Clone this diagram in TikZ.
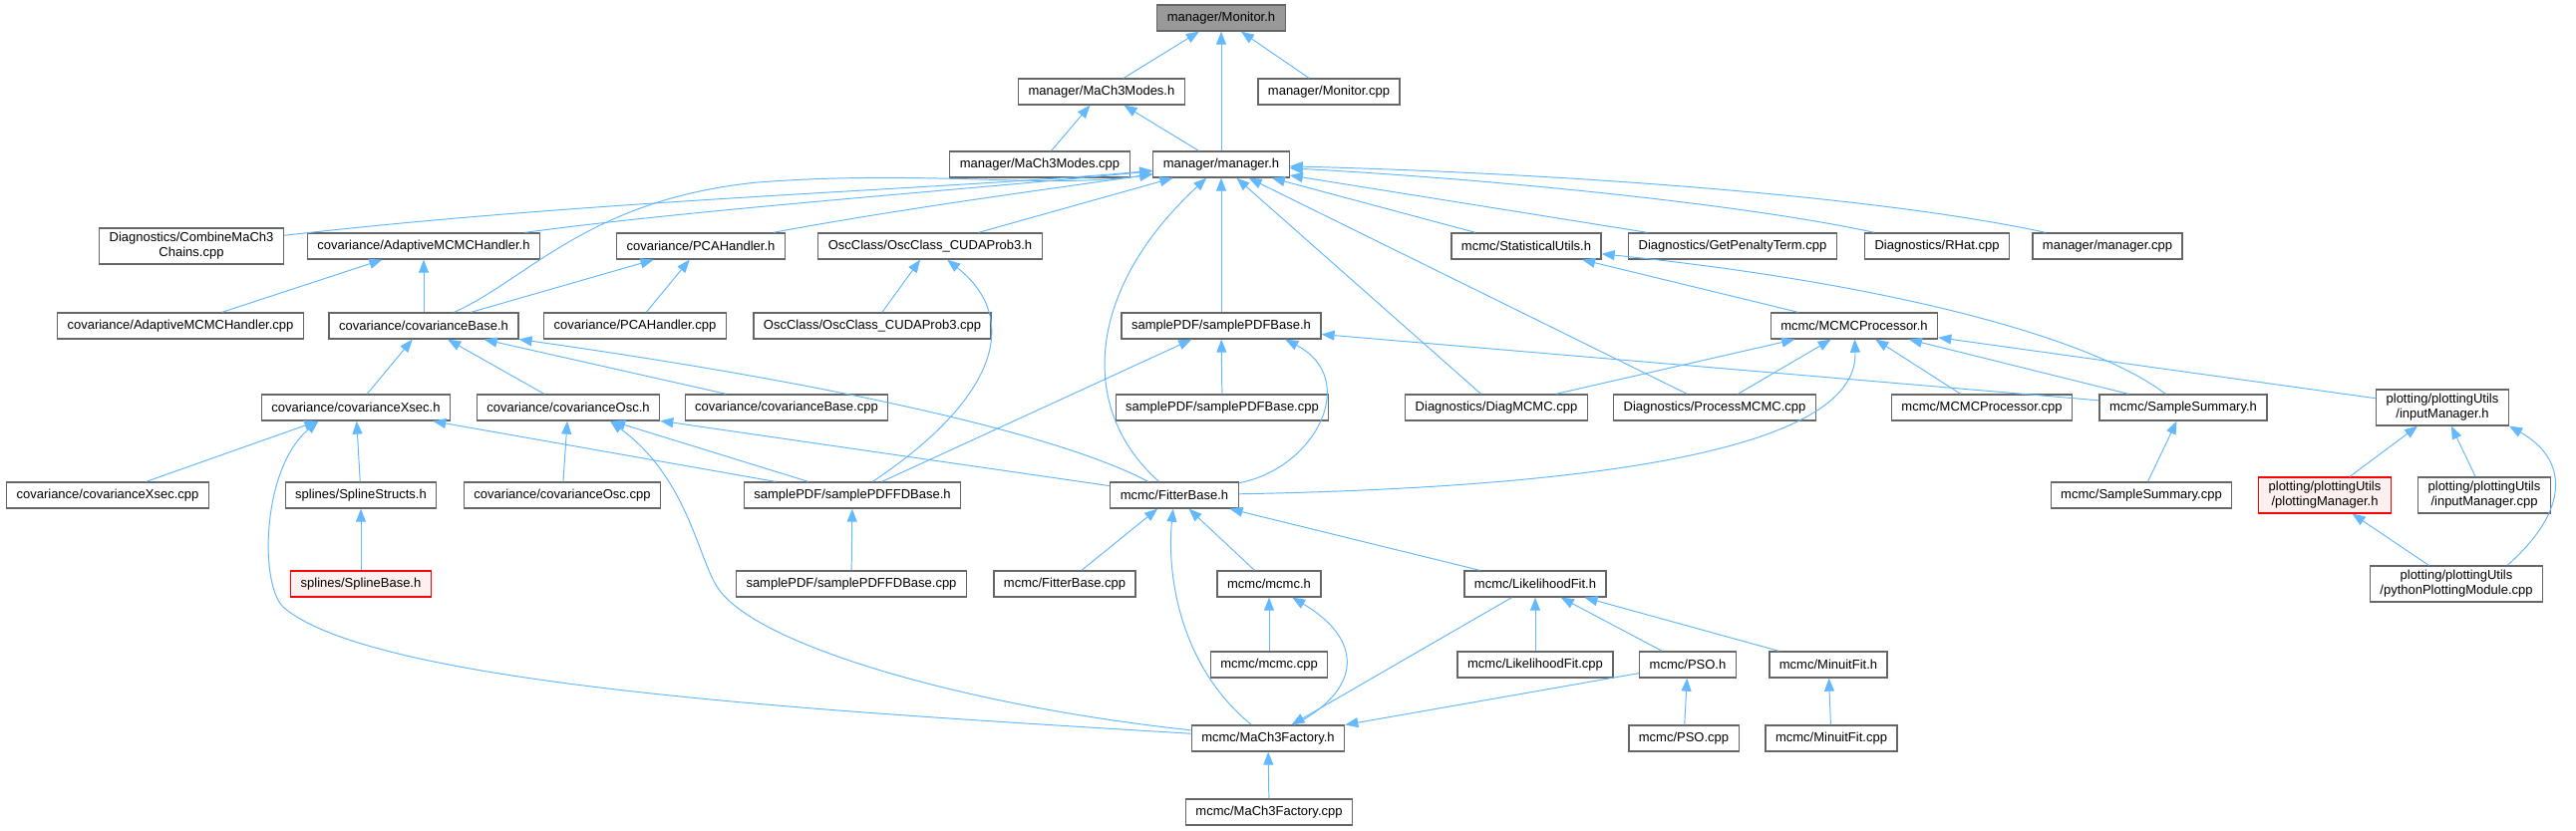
\documentclass[tikz,border=0pt]{standalone}
\usepackage{fontspec}
\setmainfont{Liberation Sans}
\usetikzlibrary{arrows.meta}
\definecolor{edgeblue}{HTML}{63B8FF}
\definecolor{boxgray}{HTML}{666666}
\definecolor{rootfill}{HTML}{999999}
\definecolor{truncfill}{HTML}{FFF0F0}
\begin{document}
\begin{tikzpicture}[x=0.02cm,y=-0.02cm,
  fnode/.style={draw=boxgray,fill=white,line width=0.75pt,align=center,minimum height=0.52cm,inner xsep=0.2cm,inner ysep=2.5pt,font=\fontsize{7.4}{8.5}\selectfont},
  rootnode/.style={fnode,fill=rootfill},
  rednode/.style={fnode,draw=red,fill=truncfill},
  incl/.style={draw=edgeblue,line width=0.55pt,-{Triangle[length=0.26cm,width=0.2cm]}}]
\fill[white] (0,0) rectangle (2584,833);
\useasboundingbox (0,0) rectangle (2584,833);
% top
\node[rootnode] (mon) at (1225,18) {manager/Monitor.h};
\node[fnode] (modes) at (1105,92) {manager/MaCh3Modes.h};
\node[fnode] (moncpp) at (1333,92) {manager/Monitor.cpp};
\node[fnode] (modescpp) at (1043,165) {manager/MaCh3Modes.cpp};
\node[fnode] (mgr) at (1225,165) {manager/manager.h};
% row 3
\node[fnode] (combine) at (192,247) {Diagnostics/CombineMaCh3\\Chains.cpp};
\node[fnode] (adapt) at (425,247) {covariance/AdaptiveMCMCHandler.h};
\node[fnode] (pca) at (703,247) {covariance/PCAHandler.h};
\node[fnode] (osc) at (933,247) {OscClass/OscClass\_CUDAProb3.h};
\node[fnode] (stat) at (1531,247) {mcmc/StatisticalUtils.h};
\node[fnode] (penalty) at (1738,247) {Diagnostics/GetPenaltyTerm.cpp};
\node[fnode] (rhat) at (1943,247) {Diagnostics/RHat.cpp};
\node[fnode] (mgrcpp) at (2114,247) {manager/manager.cpp};
% row 4
\node[fnode] (adaptcpp) at (181,327) {covariance/AdaptiveMCMCHandler.cpp};
\node[fnode] (covbase) at (425,327) {covariance/covarianceBase.h};
\node[fnode] (pcacpp) at (637,327) {covariance/PCAHandler.cpp};
\node[fnode] (osccpp) at (875,327) {OscClass/OscClass\_CUDAProb3.cpp};
\node[fnode] (pdfbase) at (1225,327) {samplePDF/samplePDFBase.h};
\node[fnode] (mcmcproc) at (1860,327) {mcmc/MCMCProcessor.h};
% row 5
\node[fnode] (xsec) at (357,409) {covariance/covarianceXsec.h};
\node[fnode] (covosc) at (570,409) {covariance/covarianceOsc.h};
\node[fnode] (covbasecpp) at (789,409) {covariance/covarianceBase.cpp};
\node[fnode] (pdfbasecpp) at (1226,409) {samplePDF/samplePDFBase.cpp};
\node[fnode] (diag) at (1501,409) {Diagnostics/DiagMCMC.cpp};
\node[fnode] (process) at (1720,409) {Diagnostics/ProcessMCMC.cpp};
\node[fnode] (mcmcproccpp) at (1988,409) {mcmc/MCMCProcessor.cpp};
\node[fnode] (summary) at (2190,409) {mcmc/SampleSummary.h};
\node[fnode] (inputmgr) at (2450,409) {plotting/plottingUtils\\/inputManager.h};
% row 6
\node[fnode] (xseccpp) at (108,497) {covariance/covarianceXsec.cpp};
\node[fnode] (splstruct) at (362,497) {splines/SplineStructs.h};
\node[fnode] (covosccpp) at (564,497) {covariance/covarianceOsc.cpp};
\node[fnode] (fdbase) at (855,497) {samplePDF/samplePDFFDBase.h};
\node[fnode] (fitter) at (1178,497) {mcmc/FitterBase.h};
\node[fnode] (summarycpp) at (2148,497) {mcmc/SampleSummary.cpp};
\node[rednode] (plotmgr) at (2332,497) {plotting/plottingUtils\\/plottingManager.h};
\node[fnode] (inputcpp) at (2492,497) {plotting/plottingUtils\\/inputManager.cpp};
% row 7
\node[rednode] (splbase) at (362,586) {splines/SplineBase.h};
\node[fnode] (fdbasecpp) at (854,586) {samplePDF/samplePDFFDBase.cpp};
\node[fnode] (fittercpp) at (1068,586) {mcmc/FitterBase.cpp};
\node[fnode] (mcmch) at (1273,586) {mcmc/mcmc.h};
\node[fnode] (likefit) at (1540,586) {mcmc/LikelihoodFit.h};
\node[fnode] (pyplot) at (2464,586) {plotting/plottingUtils\\/pythonPlottingModule.cpp};
% row 8
\node[fnode] (mcmccpp) at (1273,667) {mcmc/mcmc.cpp};
\node[fnode] (likefitcpp) at (1540,667) {mcmc/LikelihoodFit.cpp};
\node[fnode] (psoh) at (1693,667) {mcmc/PSO.h};
\node[fnode] (minuith) at (1834,667) {mcmc/MinuitFit.h};
% row 9 and 10
\node[fnode] (factory) at (1272,741) {mcmc/MaCh3Factory.h};
\node[fnode] (psocpp) at (1689,741) {mcmc/PSO.cpp};
\node[fnode] (minuitcpp) at (1837,741) {mcmc/MinuitFit.cpp};
\node[fnode] (factorycpp) at (1273,815) {mcmc/MaCh3Factory.cpp};
% includes of Monitor.h and MaCh3Modes.h
\draw[incl] (modes) -- (mon);
\draw[incl] (mgr) -- (mon);
\draw[incl] (moncpp) -- (mon);
\draw[incl] (modescpp) -- (modes);
\draw[incl] (mgr) -- (modes);
% includes of manager.h
\draw[incl] (combine) .. controls (600,200) and (950,190) .. (mgr);
\draw[incl] (adapt) .. controls (700,210) and (950,192) .. (mgr);
\draw[incl] (covbase) .. controls (530,280) and (590,200) .. (760,183) .. controls (930,170) and (1050,190) .. (mgr);
\draw[incl] (pca) .. controls (900,210) and (1050,190) .. (mgr);
\draw[incl] (osc) -- (mgr);
\draw[incl] (fitter) .. controls (1080,410) and (1090,290) .. (mgr);
\draw[incl] (pdfbase) -- (mgr);
\draw[incl] (diag) -- (mgr);
\draw[incl] (process) -- (mgr);
\draw[incl] (stat) -- (mgr);
\draw[incl] (penalty) -- (mgr);
\draw[incl] (rhat) .. controls (1750,205) and (1500,180) .. (mgr);
\draw[incl] (mgrcpp) .. controls (1900,200) and (1600,175) .. (mgr);
% second level
\draw[incl] (adaptcpp) -- (adapt);
\draw[incl] (covbase) -- (adapt);
\draw[incl] (covbase) -- (pca);
\draw[incl] (pcacpp) -- (pca);
\draw[incl] (osccpp) -- (osc);
\draw[incl] (fdbase) .. controls (1000,400) and (1025,320) .. (osc);
\draw[incl] (xsec) -- (covbase);
\draw[incl] (covosc) -- (covbase);
\draw[incl] (covbasecpp) -- (covbase);
\draw[incl] (fitter) .. controls (1050,430) and (800,380) .. (covbase);
\draw[incl] (pdfbasecpp) -- (pdfbase);
\draw[incl] (fdbase) -- (pdfbase);
\draw[incl] (fitter) .. controls (1320,470) and (1365,380) .. (pdfbase.-12);
\draw[incl] (summary) -- (pdfbase);
\draw[incl] (mcmcproc) -- (stat);
\draw[incl] (summary) .. controls (2100,340) and (1900,285) .. (stat);
\draw[incl] (diag) -- (mcmcproc);
\draw[incl] (process) -- (mcmcproc);
\draw[incl] (fitter) .. controls (1550,490) and (1865,460) .. (mcmcproc);
\draw[incl] (mcmcproccpp) -- (mcmcproc);
\draw[incl] (summary) -- (mcmcproc);
\draw[incl] (inputmgr) -- (mcmcproc);
% covariance and samplePDF
\draw[incl] (xseccpp) -- (xsec);
\draw[incl] (splstruct) -- (xsec);
\draw[incl] (fdbase) -- (xsec);
\draw[incl] (factory) .. controls (850,715) and (380,690) .. (285,610) .. controls (260,589) and (262,470) .. (xsec.200);
\draw[incl] (covosccpp) -- (covosc);
\draw[incl] (fdbase) -- (covosc);
\draw[incl] (fitter) -- (covosc);
\draw[incl] (factory) .. controls (980,710) and (760,650) .. (720,590) .. controls (700,560) and (690,480) .. (covosc.-18);
\draw[incl] (splbase) -- (splstruct);
\draw[incl] (fdbasecpp) -- (fdbase);
% fitters
\draw[incl] (fittercpp) -- (fitter);
\draw[incl] (mcmch) -- (fitter);
\draw[incl] (factory) .. controls (1185,670) and (1170,580) .. (fitter);
\draw[incl] (likefit) -- (fitter);
\draw[incl] (mcmccpp) -- (mcmch);
\draw[incl] (factory) .. controls (1370,690) and (1365,640) .. (mcmch);
\draw[incl] (likefit) -- (factory);
\draw[incl] (likefitcpp) -- (likefit);
\draw[incl] (psoh) -- (likefit);
\draw[incl] (minuith) -- (likefit);
\draw[incl] (psoh) -- (factory);
\draw[incl] (psocpp) -- (psoh);
\draw[incl] (minuitcpp) -- (minuith);
\draw[incl] (factorycpp) -- (factory);
% plotting
\draw[incl] (summarycpp) -- (summary);
\draw[incl] (plotmgr) -- (inputmgr);
\draw[incl] (inputcpp) -- (inputmgr);
\draw[incl] (pyplot.20) .. controls (2580,510) and (2575,460) .. (inputmgr.south east);
\draw[incl] (pyplot) -- (plotmgr);
\end{tikzpicture}
\end{document}
